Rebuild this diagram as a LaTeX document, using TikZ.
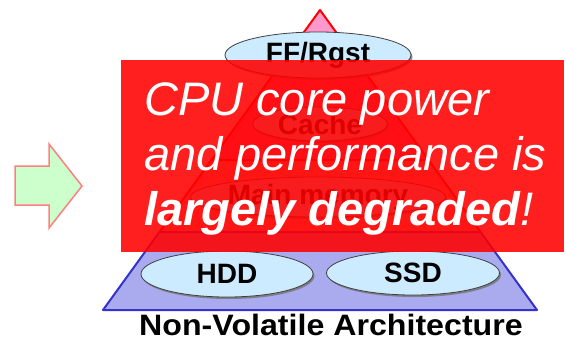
\documentclass[tikz,border=0pt]{standalone}
\usepackage{fontspec}
\setmainfont{Liberation Sans}
\usetikzlibrary{shapes.geometric,shadows}
\definecolor{pinkL}{HTML}{FF99CC}
\definecolor{pinkM}{HTML}{FF7FB0}
\definecolor{orangeL}{HTML}{FFB0A0}
\definecolor{lavL}{HTML}{AAAAEE}
\definecolor{blueD}{HTML}{3333CC}
\definecolor{ellL}{HTML}{CCEBFF}
\definecolor{arrG}{HTML}{CCFFCC}
\definecolor{arrR}{HTML}{FF7F7F}
\definecolor{ovR}{HTML}{FF0000}
\tikzset{
  layerR/.style={fill=pinkL, draw=ovR, line width=2pt, line join=round},
  layerB/.style={fill=lavL, draw=blueD, line width=2pt, line join=round},
  memell/.style={ellipse, fill=ellL, draw=black!75, line width=0.8pt, inner sep=0pt,
     drop shadow={shadow xshift=1.5pt, shadow yshift=-2pt, fill=black!55, opacity=0.8},
     font=\fontsize{28}{30}\selectfont\bfseries},
  bigarrow/.style={fill=arrG, draw=arrR, line width=1.5pt, line join=miter},
  ovtext/.style={anchor=base west, inner sep=0pt, text=white, font=\fontsize{47}{55}\selectfont\itshape},
}
\begin{document}
\begin{tikzpicture}[x=1pt,y=-1pt]
\useasboundingbox (0,0) rectangle (566,349);
% pyramid layers
\draw[layerR] (320,10) -- (356.2,60) -- (283.8,60) -- cycle;
\draw[layerR, fill=pinkM] (283.8,60) -- (356.2,60) -- (428.5,160) -- (211.5,160) -- cycle;
\draw[layerR, fill=orangeL] (211.5,160) -- (428.5,160) -- (480.6,232) -- (159.4,232) -- cycle;
\draw[layerB] (159.4,232) -- (480.6,232) -- (537,310) -- (103,310) -- cycle;
% memory ellipses
\node[memell, minimum width=186pt, minimum height=46pt] (ff) at (318,55) {FF/Rgst};
\node[memell, minimum width=135pt, minimum height=34pt] (cache) at (320,124) {Cache};
\node[memell, minimum width=218pt, minimum height=40pt] (mm) at (318,197) {Main memory};
\node[memell, minimum width=172pt, minimum height=46pt] (hdd) at (227,274) {HDD};
\node[memell, minimum width=173pt, minimum height=44pt] (ssd) at (413,273) {SSD};
% caption
\node[anchor=base, inner sep=0pt, font=\fontsize{29.5}{31}\selectfont\bfseries] (cap) at (331,335) {\scalebox{1.09}[1]{Non-Volatile Architecture}};
% arrow
\draw[bigarrow] (15,166) -- (49,166) -- (49,144) -- (82,186) -- (49,228) -- (49,205) -- (15,205) -- cycle;
% overlay
\fill[ovR, opacity=0.88] (121,60) rectangle (564,252);
\node[ovtext] (l1) at (144,115) {CPU core power};
\node[ovtext] (l2) at (144,170) {and performance is};
\node[ovtext] (l3) at (144,225) {\bfseries largely degraded\mdseries!};
\end{tikzpicture}
\end{document}
